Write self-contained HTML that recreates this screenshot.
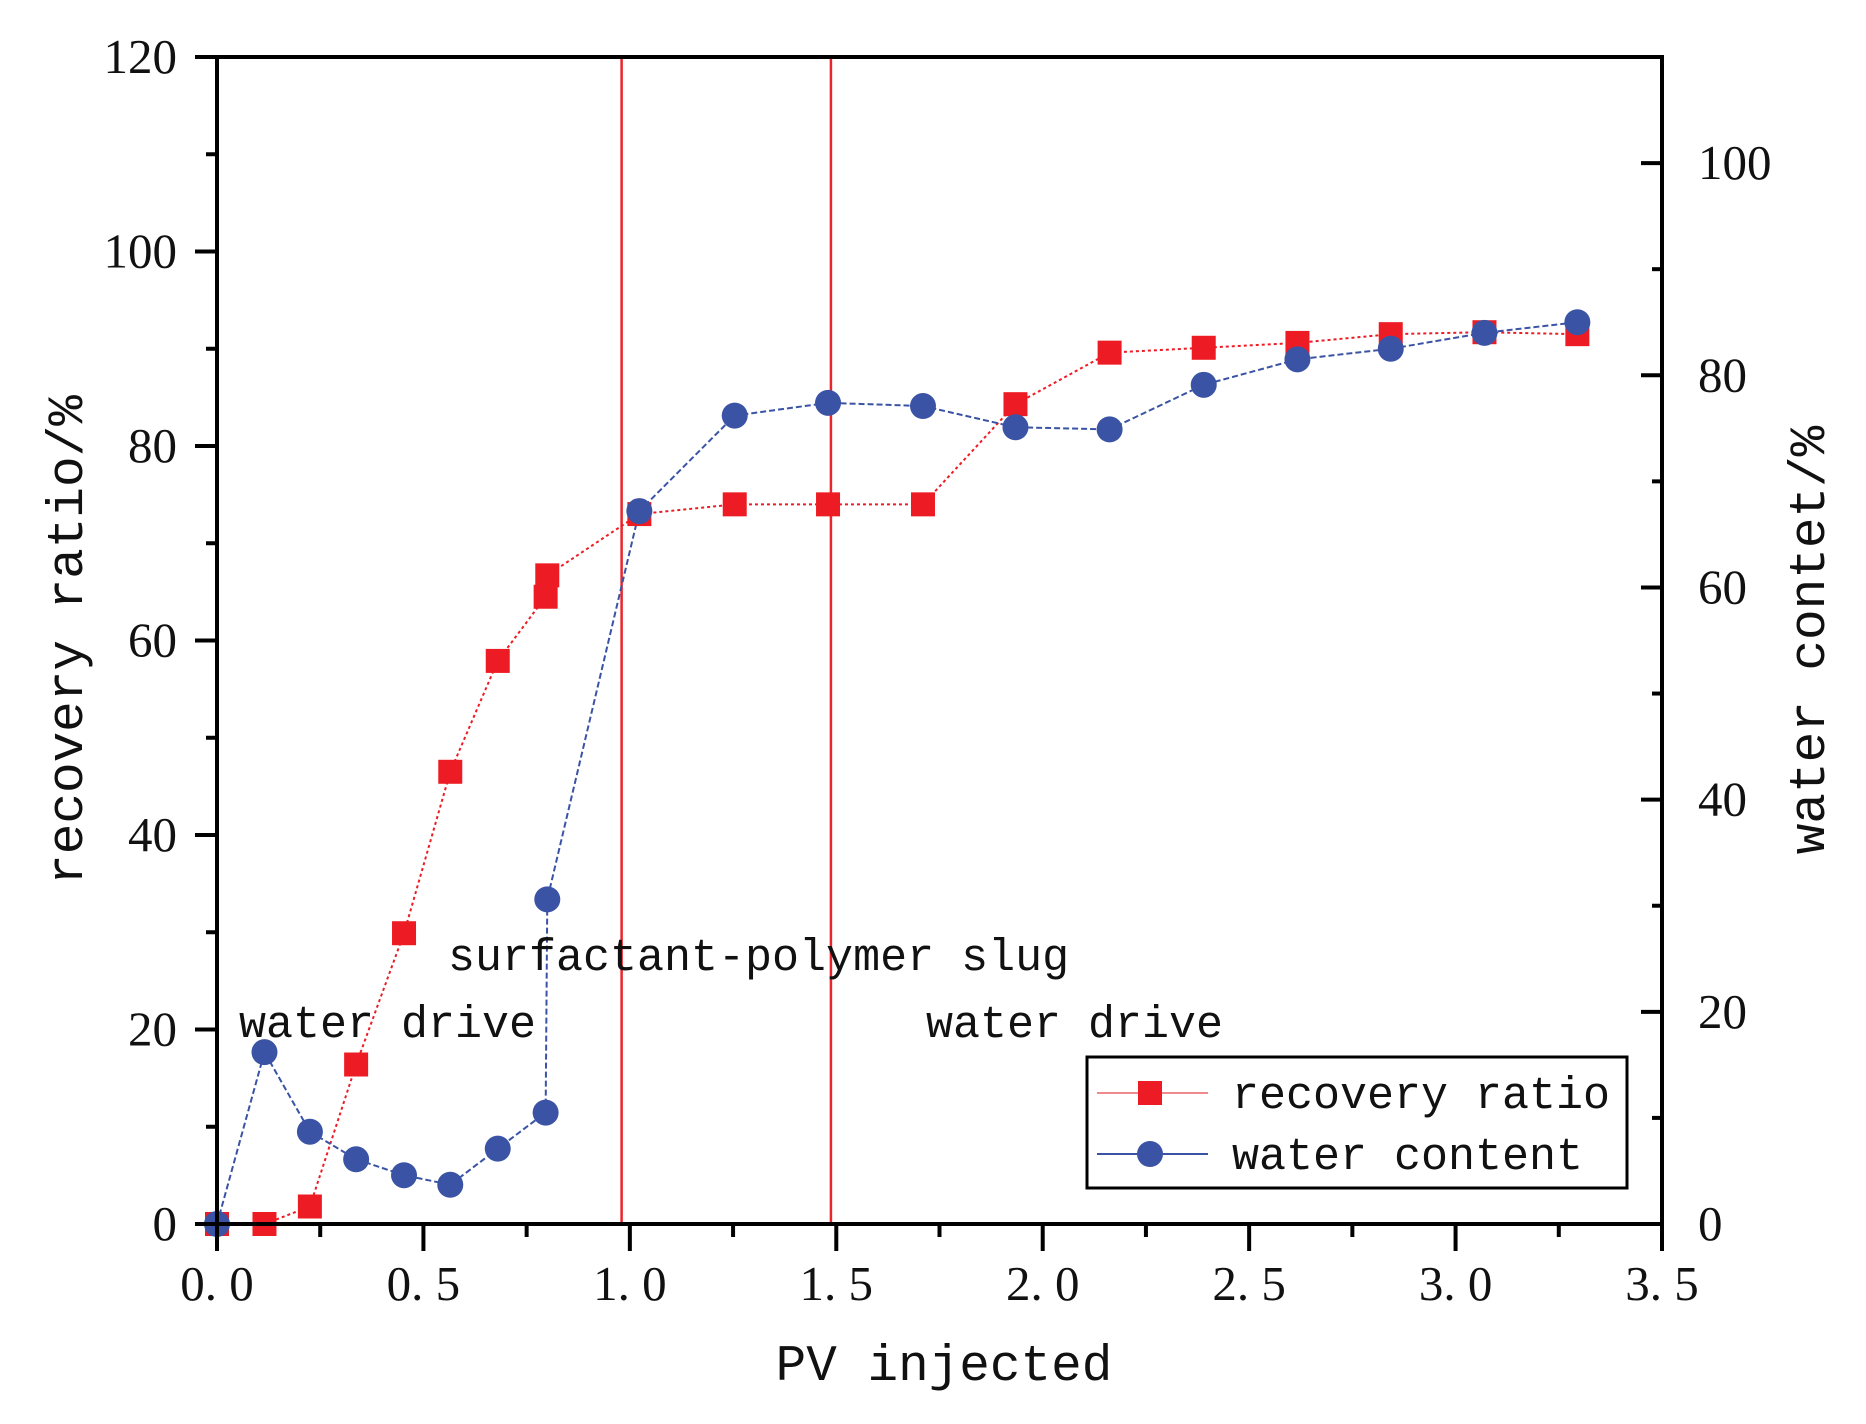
<!DOCTYPE html>
<html><head><meta charset="utf-8"><style>
html,body{margin:0;padding:0;background:#fff;}
svg{display:block;}
.tk{font-family:"Liberation Serif",serif;font-size:49px;fill:#111;}
.mono{font-family:"Liberation Mono",monospace;fill:#111;}
</style></head><body>
<svg id="chart" width="1866" height="1424" viewBox="0 0 1866 1424" xmlns="http://www.w3.org/2000/svg">
<g id="grid"></g>
</svg>
<script>
const pvRec = [0,0.115,0.225,0.337,0.453,0.565,0.68,0.796,0.8,1.023,1.254,1.48,1.71,1.934,2.162,2.39,2.617,2.843,3.07,3.295];
const recovery = [0,0,1.8,16.4,29.9,46.5,57.9,64.5,66.7,73,74,74,74,84.3,89.6,90.1,90.6,91.5,91.7,91.5];
const pvWater = [0,0.115,0.225,0.337,0.453,0.565,0.68,0.796,0.8,1.023,1.254,1.48,1.71,1.934,2.162,2.39,2.617,2.843,3.07,3.295];
const waterContent = [0,16.2,8.7,6.1,4.6,3.7,7.1,10.5,30.6,67.2,76.2,77.4,77.1,75.1,74.9,79.1,81.5,82.5,84,85];
const xTicks = ["0. 0","0. 5","1. 0","1. 5","2. 0","2. 5","3. 0","3. 5"];
const yLeftTicks = ["0","20","40","60","80","100","120"];
const yRightTicks = ["0","20","40","60","80","100"];
const stageLines = [0.98,1.487];

const L=217,R=1662,T=57,B=1224;
const xS=v=>L+(v/3.5)*(R-L);
const yL=v=>B-(v/120)*(B-T);
const yR=v=>B-(v/110)*(B-T);
const NS="http://www.w3.org/2000/svg";
const svg=document.getElementById('chart');
function mk(tag,attrs,parent){const e=document.createElementNS(NS,tag);for(const k in attrs)e.setAttribute(k,attrs[k]);(parent||svg).appendChild(e);return e;}

stageLines.forEach((v,i)=>{
 const l=mk('line',{x1:xS(v),x2:xS(v),y1:T,y2:B,stroke:'#e8262b','stroke-width':2.5});
 
 
});

let p=pvRec.map((x,i)=>xS(x)+','+yL(recovery[i])).join(' ');
let rl=mk('polyline',{points:p,fill:'none',stroke:'#ed1c24','stroke-width':2,'stroke-dasharray':'3,3'});


p=pvWater.map((x,i)=>xS(x)+','+yR(waterContent[i])).join(' ');
let wl=mk('polyline',{points:p,fill:'none',stroke:'#3a53a4','stroke-width':2,'stroke-dasharray':'6,3'});



pvRec.forEach((x,i)=>{
 const r=mk('rect',{x:xS(x)-12,y:yL(recovery[i])-12,width:24,height:24,fill:'#ed1c24'});
 
 
});
pvWater.forEach((x,i)=>{
 const c=mk('circle',{cx:xS(x),cy:yR(waterContent[i]),r:13,fill:'#3a53a4'});
 
 
});

const fr=mk('rect',{x:L,y:T,width:R-L,height:B-T,fill:'none',stroke:'#000','stroke-width':4});



xTicks.forEach((t,i)=>{
 const v=i*0.5,x=xS(v);
 mk('line',{x1:x,x2:x,y1:B,y2:B+27,stroke:'#000','stroke-width':4});
 if(i<xTicks.length-1){const xm=xS(v+0.25);mk('line',{x1:xm,x2:xm,y1:B,y2:B+13,stroke:'#000','stroke-width':4});}
 const tx=mk('text',{x:x,y:1300,'text-anchor':'middle',class:'tk'});tx.textContent=t;
 
 
});
yLeftTicks.forEach((t,i)=>{
 const v=i*20,y=yL(v);
 mk('line',{x1:L-22,x2:L,y1:y,y2:y,stroke:'#000','stroke-width':4});
 if(i<yLeftTicks.length-1){const ym=yL(v+10);mk('line',{x1:L-11,x2:L,y1:ym,y2:ym,stroke:'#000','stroke-width':4});}
 const tx=mk('text',{x:177,y:y+16,'text-anchor':'end',class:'tk'});tx.textContent=t;
 
 
});
yRightTicks.forEach((t,i)=>{
 const v=i*20,y=yR(v);
 mk('line',{x1:R-21,x2:R,y1:y,y2:y,stroke:'#000','stroke-width':4});
 const ym=yR(v+10);mk('line',{x1:R-10,x2:R,y1:ym,y2:ym,stroke:'#000','stroke-width':4});
 const tx=mk('text',{x:1698,y:y+16,'text-anchor':'start',class:'tk'});tx.textContent=t;
 
 
});
</script>
<svg style="position:absolute;left:0;top:0" width="1866" height="1424" xmlns="http://www.w3.org/2000/svg">
<text class="mono" x="448" y="970" font-size="45">surfactant-polymer slug</text>
<text class="mono" x="239" y="1037" font-size="45">water drive</text>
<text class="mono" x="926" y="1037" font-size="45">water drive</text>
<text class="mono" x="944" y="1380" font-size="51" text-anchor="middle">PV injected</text>
<text class="mono" x="0" y="0" font-size="51" text-anchor="middle" transform="translate(82,640) rotate(-90)">recovery ratio/%</text>
<text class="mono" x="0" y="0" font-size="51" text-anchor="middle" transform="translate(1824,640) rotate(-90)">water contet/%</text>
<g>
<rect x="1087" y="1057" width="540" height="131" fill="#fff" stroke="#000" stroke-width="3"/>
<line x1="1097" x2="1208" y1="1093" y2="1093" stroke="#f08a8d" stroke-width="2"/>
<rect x="1138" y="1081" width="24" height="24" fill="#ed1c24"/>
<text class="mono" x="1232" y="1108" font-size="45">recovery ratio</text>
<line x1="1097" x2="1208" y1="1154" y2="1154" stroke="#3a53a4" stroke-width="2"/>
<circle cx="1150" cy="1154" r="13" fill="#3a53a4"/>
<text class="mono" x="1232" y="1169" font-size="45">water content</text>
</g>
</svg>
</body></html>
